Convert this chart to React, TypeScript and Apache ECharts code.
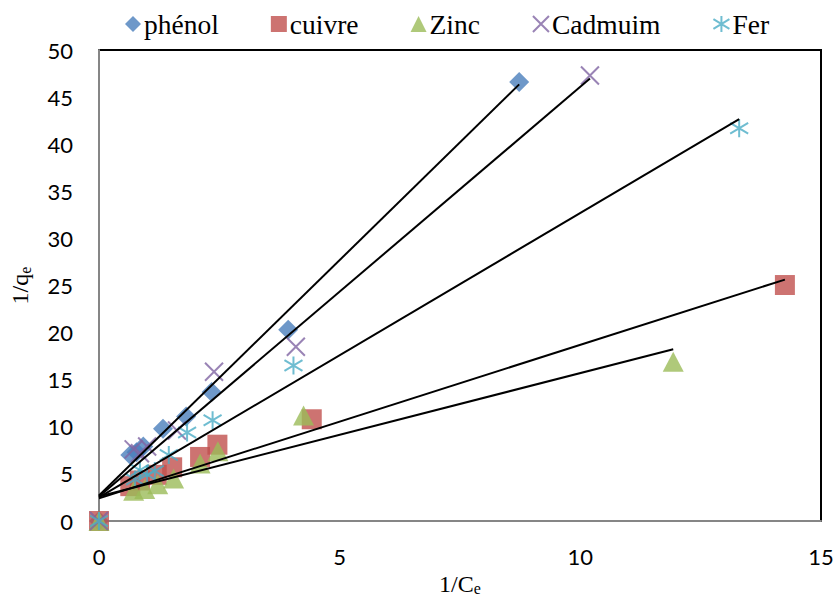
import React, { useEffect, useRef } from "react";
import * as echarts from "echarts";

// ---- data ----
const seriesNames = ["phénol", "cuivre", "Zinc", "Cadmuim", "Fer"];

const phenolX = [0, 0.65, 0.78, 0.92, 1.33, 1.81, 2.34, 3.93, 8.73];
const phenolY = [0, 7.0, 7.3, 7.9, 9.8, 11.1, 13.7, 20.3, 46.6];
const cuivreX = [0, 0.65, 0.85, 1.2, 1.52, 2.1, 2.46, 4.42, 14.25];
const cuivreY = [0, 3.7, 4.3, 4.9, 5.7, 6.8, 8.1, 10.8, 25.05];
const zincX = [0, 0.72, 0.95, 1.22, 1.55, 2.1, 2.47, 4.25, 11.93];
const zincY = [0, 3.2, 3.4, 3.9, 4.5, 6.1, 7.4, 11.2, 16.9];
const cadmiumX = [0, 0.72, 0.85, 1.0, 1.62, 2.39, 4.09, 10.2];
const cadmiumY = [0, 7.6, 7.2, 7.9, 9.6, 15.85, 18.5, 47.3];
const ferX = [0, 0.75, 0.85, 1.0, 1.16, 1.45, 1.83, 2.36, 4.04, 13.3];
const ferY = [0, 4.4, 5.4, 4.9, 5.3, 7.0, 9.4, 10.7, 16.5, 41.7];

// linear trendlines (slope, intercept) per series
const trendSlopes = [5.0, 1.63, 1.31, 4.35, 3.02];
const trendIntercepts = [2.7, 2.4, 2.6, 2.6, 2.5];

const xTicks = [0, 5, 10, 15];
const yTicks = [0, 5, 10, 15, 20, 25, 30, 35, 40, 45, 50];

const colors = ["#4A7EBB", "#C0504D", "#9BBB59", "#8064A2", "#4BACC6"];
const CROSS = "path://M0,0L10,10M10,0L0,10";
const STAR = "path://M5,0L5,10M0,2L10,8M0,8L10,2";

export default function App() {
  const ref = useRef<HTMLDivElement>(null);
  useEffect(() => {
    document.body.style.margin = "0";
    const chart = echarts.init(ref.current!, null, { renderer: "svg" });
    const xs = [phenolX, cuivreX, zincX, cadmiumX, ferX];
    const ys = [phenolY, cuivreY, zincY, cadmiumY, ferY];
    const symbols = ["diamond", "rect", "triangle", CROSS, STAR];
    const sizes = [[20, 20], [20, 20], [21, 20], [18, 18], [18, 18]];
    const scatter = seriesNames.map((name, i) => {
      const stroke = i >= 3;
      return {
        name,
        type: "scatter",
        clip: false,
        symbol: symbols[i],
        symbolSize: sizes[i],
        z: 2 + i,
        itemStyle: stroke
          ? { color: "rgba(0,0,0,0)", borderColor: colors[i], borderWidth: 2 }
          : { color: colors[i] },
        data: xs[i].map((x, k) => [x, ys[i][k]]),
      };
    });
    const trends = seriesNames.map((name, i) => {
      const xEnd = xs[i][xs[i].length - 1];
      return {
        name: name + " trend",
        type: "line",
        silent: true,
        symbol: "none",
        z: 10,
        lineStyle: { color: "#000", width: 2 },
        data: [
          [0, trendIntercepts[i]],
          [xEnd, trendIntercepts[i] + trendSlopes[i] * xEnd],
        ],
      };
    });
    const richTitle = {
      a: { fontFamily: "Liberation Serif", fontSize: 24, lineHeight: 26, color: "#000" },
      s: {
        fontFamily: "Liberation Serif",
        fontSize: 16,
        lineHeight: 16,
        color: "#000",
        verticalAlign: "bottom",
      },
    };
    chart.setOption({
      animation: false,
      backgroundColor: "#fff",
      legend: {
        data: seriesNames.map((n, i) => ({
          name: n,
          icon: symbols[i],
        })),
        left: 120,
        top: 5,
        itemGap: 52,
        itemWidth: 16,
        itemHeight: 16,
        textStyle: {
          fontFamily: "Liberation Serif",
          fontSize: 27.5,
          color: "#000",
          padding: [0, 0, 0, -2],
        },
      },
      grid: {
        left: 99,
        right: 16,
        top: 50,
        bottom: 77,
        outerBoundsMode: "none",
        containLabel: false,
        show: true,
        borderColor: "#000",
        borderWidth: 2,
        backgroundColor: "#fff",
      },
      xAxis: {
        type: "value",
        min: xTicks[0],
        max: xTicks[xTicks.length - 1],
        interval: xTicks[1] - xTicks[0],
        splitLine: { show: false },
        axisTick: { show: false },
        axisLine: { lineStyle: { color: "#868686", width: 2 } },
        axisLabel: {
          fontFamily: "Lato",
          fontSize: 22,
          color: "#000",
          margin: 24,
        },
        name: "{a|1/C}{s|e}",
        nameLocation: "middle",
        nameGap: 44,
        nameTextStyle: { rich: richTitle },
      },
      yAxis: {
        type: "value",
        min: yTicks[0],
        max: yTicks[yTicks.length - 1],
        interval: yTicks[1] - yTicks[0],
        splitLine: { show: false },
        axisTick: { show: false },
        axisLine: { lineStyle: { color: "#868686", width: 2 } },
        axisLabel: {
          fontFamily: "Lato",
          fontSize: 22,
          color: "#000",
          margin: 26,
        },
        name: "{a|1/q}{s|e}",
        nameLocation: "middle",
        nameGap: 66,
        nameTextStyle: { rich: richTitle },
      },
      series: [...scatter, ...trends],
    });
    return () => chart.dispose();
  }, []);
  return (
    <div
      ref={ref}
      style={{ position: "fixed", left: 0, top: 0, width: 837, height: 598 }}
    />
  );
}
